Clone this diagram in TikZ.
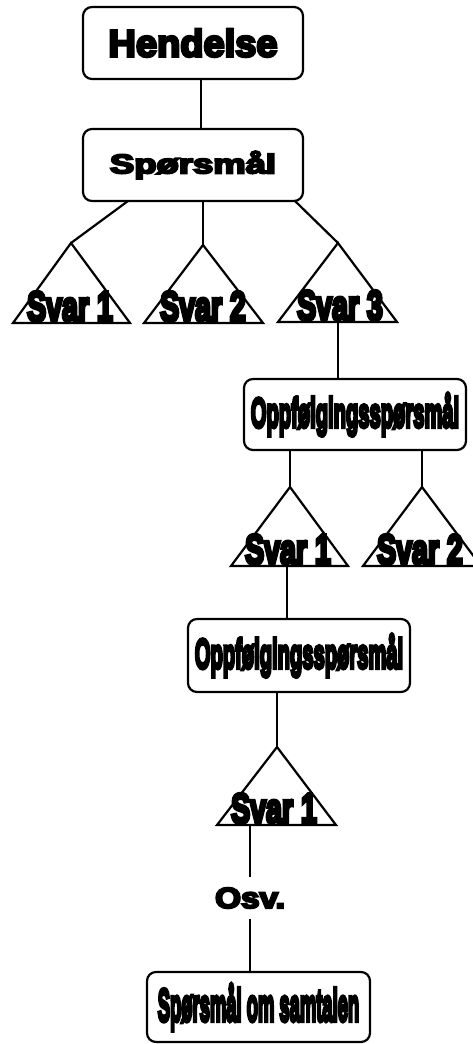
\documentclass[tikz,border=0pt]{standalone}
\usepackage{fontspec}
\usepackage{graphicx}
\newfontfamily\blk[FakeBold=7]{Liberation Sans Bold}
\newfontfamily\blkc[FakeBold=9]{Liberation Sans Bold}
\newcommand\txt[3]{{\blk\fontsize{#1}{#1}\selectfont\scalebox{#2}[1]{#3}}}
\newcommand\ctxt[3]{{\blkc\fontsize{#1}{#1}\selectfont\scalebox{#2}[1]{#3}}}
\begin{document}
\begin{tikzpicture}[x=1pt,y=-1pt,
  box/.style={draw, rounded corners=9pt, inner sep=0pt, line width=2.2pt},
  lbl/.style={inner sep=0pt},
  link/.style={draw, line width=2.2pt},
  tri/.style={draw, line width=2.2pt, line join=miter}]
\useasboundingbox (0,0) rectangle (473,1044);

% boxes
\node[box, minimum width=220pt, minimum height=72pt] (hend) at (193,43) {\txt{38}{1}{Hendelse}};
\node[box, minimum width=220pt, minimum height=72pt] (sp) at (193,165) {\txt{27}{1.35}{Spørsmål}};
\node[box, minimum width=222pt, minimum height=71pt] (opp1) at (355,414.5) {\ctxt{42}{0.48}{Oppfølgingsspørsmål}};
\node[box, minimum width=222pt, minimum height=73pt] (opp2) at (299,655.5) {\ctxt{42}{0.48}{Oppfølgingsspørsmål}};
\node[box, minimum width=223pt, minimum height=70pt] (sam) at (258.5,1007) {\ctxt{46}{0.40}{Spørsmål om samtalen}};

% triangles
\coordinate (tAa) at (71,243);  \coordinate (tAl) at (13,323);  \coordinate (tAr) at (130,323);
\coordinate (tBa) at (203,245); \coordinate (tBl) at (144,323); \coordinate (tBr) at (263,323);
\coordinate (tCa) at (338,243); \coordinate (tCl) at (278,322); \coordinate (tCr) at (397,322);
\coordinate (tDa) at (290,487); \coordinate (tDl) at (231,566); \coordinate (tDr) at (348,566);
\coordinate (tEa) at (422,487); \coordinate (tEl) at (363,566); \coordinate (tEr) at (481,566);
\coordinate (tFa) at (277,747); \coordinate (tFl) at (217,825); \coordinate (tFr) at (336,825);
\foreach \t in {A,B,C,D,E,F}{\draw[tri] (t\t a) -- (t\t l) -- (t\t r) -- cycle;}

\node[lbl, anchor=base] (sA) at (70,321) {\ctxt{42}{0.68}{Svar 1}};
\node[lbl, anchor=base] (sB) at (203,321) {\ctxt{42}{0.68}{Svar 2}};
\node[lbl, anchor=base] (sC) at (340,320) {\ctxt{42}{0.68}{Svar 3}};
\node[lbl, anchor=base] (sD) at (288,564) {\ctxt{42}{0.68}{Svar 1}};
\node[lbl, anchor=base] (sE) at (420,564) {\ctxt{42}{0.68}{Svar 2}};
\node[lbl, anchor=base] (sF) at (274,823) {\ctxt{42}{0.68}{Svar 1}};

% Osv.
\node[inner xsep=0pt, inner ysep=11pt] (osv) at (250,898) {\txt{29}{1.15}{Osv.}};

% connector end points
\coordinate (h1) at (201,79);  \coordinate (s1) at (201,129);
\coordinate (sa) at (128,201); \coordinate (sb) at (203,201); \coordinate (sc) at (295,201);
\coordinate (cb) at (338,322); \coordinate (o1t) at (338,379);
\coordinate (o1a) at (290,450); \coordinate (o1b) at (422,450);
\coordinate (db) at (287,566); \coordinate (o2t) at (287,619);
\coordinate (o2b) at (277,692);
\coordinate (fb) at (250,825); \coordinate (samt) at (250,972);

\draw[link] (h1) -- (s1);
\draw[link] (sa) -- (tAa);
\draw[link] (sb) -- (tBa);
\draw[link] (sc) -- (tCa);
\draw[link] (cb) -- (o1t);
\draw[link] (o1a) -- (tDa);
\draw[link] (o1b) -- (tEa);
\draw[link] (db) -- (o2t);
\draw[link] (o2b) -- (tFa);
\draw[link] (fb) -- (osv.north);
\draw[link] (osv.south) -- (samt);
\end{tikzpicture}
\end{document}
